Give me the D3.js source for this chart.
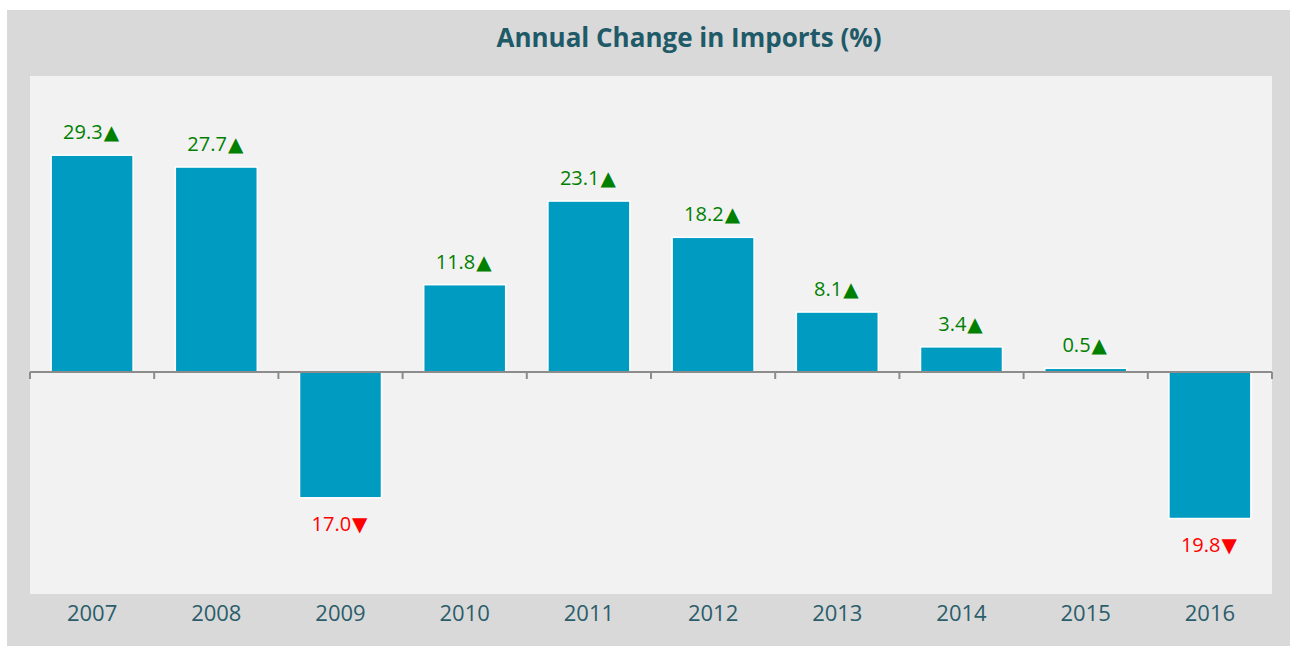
<!DOCTYPE html>
<html lang="en">

<head>
  <meta charset="UTF-8">
  <title>Annual Change in Imports (%)</title>
  <style>
    html, body {
      margin: 0;
      padding: 0;
      background: #fff;
    }

    #main {
      width: 1290px;
      height: 646px;
    }
  </style>
</head>

<body>
  <div id="main"></div>
  <script src="https://d3js.org/d3.v7.min.js"></script>
  <script>
    // data
    const years = ['2007', '2008', '2009', '2010', '2011', '2012', '2013', '2014', '2015', '2016']
    const changes = [29.3, 27.7, -17.0, 11.8, 23.1, 18.2, 8.1, 3.4, 0.5, -19.8]
    const title = 'Annual Change in Imports (%)'

    const [width, height] = [1290, 646]
    const plot = { left: 30, right: 1272, top: 76, bottom: 594 }
    const font = '"Open Sans", sans-serif'

    const svg = d3.select('#main').append('svg')
      .attr('width', width)
      .attr('height', height)
      .attr('viewBox', `0 0 ${width} ${height}`)

    // outer grey panel + inner plot area
    svg.append('rect')
      .attr('x', 7).attr('y', 10)
      .attr('width', width - 7).attr('height', height - 10)
      .attr('fill', '#d9d9d9')

    svg.append('rect')
      .attr('x', plot.left).attr('y', plot.top)
      .attr('width', plot.right - plot.left)
      .attr('height', plot.bottom - plot.top)
      .attr('fill', '#f2f2f2')

    svg.append('text')
      .attr('x', 689).attr('y', 47)
      .attr('text-anchor', 'middle')
      .attr('font-family', font)
      .attr('font-weight', 'bold')
      .attr('font-size', 26)
      .attr('fill', '#1f5a68')
      .text(title)

    // scales
    const x = d3.scaleBand()
      .domain(years)
      .range([plot.left, plot.right])
      .paddingInner(0.34)
      .paddingOuter(0.17)

    const y = d3.scaleLinear()
      .domain([-30, 40])
      .range([plot.bottom, plot.top])

    const data = years.map((yr, i) => ({ year: yr, value: changes[i] }))

    // bars
    svg.append('g')
      .selectAll('rect')
      .data(data)
      .join('rect')
      .attr('x', d => x(d.year))
      .attr('width', x.bandwidth())
      .attr('y', d => y(Math.max(0, d.value)))
      .attr('height', d => Math.abs(y(d.value) - y(0)))
      .attr('fill', '#009bc0')
      .attr('stroke', '#fff')
      .attr('stroke-width', 1.5)

    // zero axis with ticks at band edges
    const edge = d3.scaleLinear().domain([0, years.length]).range([plot.left, plot.right])
    const axis = svg.append('g').attr('transform', `translate(0 ${y(0)})`)
    axis.append('line')
      .attr('x1', plot.left).attr('x2', plot.right)
      .attr('stroke', '#8c8c8c').attr('stroke-width', 2)
    axis.selectAll('.tick')
      .data(d3.range(years.length + 1))
      .join('line')
      .attr('class', 'tick')
      .attr('x1', d => edge(d)).attr('x2', d => edge(d))
      .attr('y1', 0).attr('y2', 7)
      .attr('stroke', '#8c8c8c').attr('stroke-width', 2)

    // value labels
    const labels = svg.append('g')
      .selectAll('text')
      .data(data)
      .join('text')
      .attr('x', d => x(d.year) + x.bandwidth() / 2 - 1)
      .attr('y', d => d.value >= 0 ? y(d.value) - 16 : y(d.value) + 33)
      .attr('text-anchor', 'middle')
      .attr('font-family', font)
      .attr('font-size', 20)
      .attr('fill', d => d.value >= 0 ? '#008000' : '#ff0000')
    labels.append('tspan').text(d => Math.abs(d.value).toFixed(1))
    labels.append('tspan')
      .attr('font-family', '"DejaVu Sans", sans-serif')
      .attr('font-size', 20)
      .attr('dx', 1)
      .text(d => d.value >= 0 ? '▲' : '▼')

    // category labels
    svg.append('g')
      .selectAll('text')
      .data(years)
      .join('text')
      .attr('x', d => x(d) + x.bandwidth() / 2)
      .attr('y', 621)
      .attr('text-anchor', 'middle')
      .attr('font-family', font)
      .attr('font-size', 22)
      .attr('fill', '#2b5d6b')
      .text(d => d)
  </script>
</body>

</html>
